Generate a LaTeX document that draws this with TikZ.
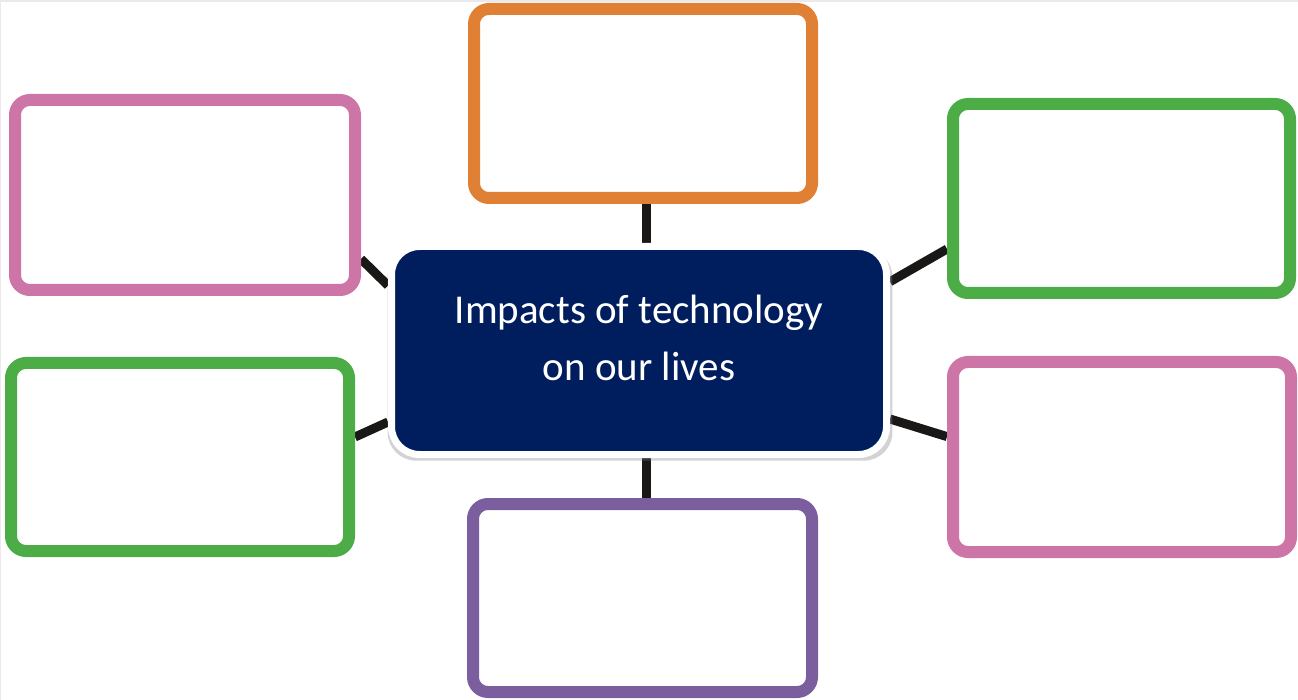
\documentclass[tikz,border=0pt]{standalone}
\usepackage{fontspec}
\setmainfont{Carlito}
\usetikzlibrary{shadows,backgrounds}
\definecolor{orangeB}{RGB}{224,128,52}
\definecolor{pinkB}{RGB}{204,117,166}
\definecolor{greenB}{RGB}{76,173,70}
\definecolor{purpleB}{RGB}{123,94,158}
\definecolor{navyB}{RGB}{0,30,94}
\definecolor{linkB}{RGB}{26,24,22}
\definecolor{edgeB}{RGB}{236,232,238}
\tikzset{
  blankbox/.style={draw=#1, line width=12pt, fill=white, rounded corners=15pt,
    rectangle, inner sep=0pt},
  hubbox/.style={draw=white, line width=7pt, fill=navyB, rounded corners=28pt,
    rectangle, inner sep=0pt, minimum width=495pt, minimum height=208pt,
    drop shadow={opacity=0.35, shadow scale=1.02, shadow xshift=1pt, shadow yshift=-4pt}},
  hubtext/.style={text=white, align=center, font=\fontsize{41}{57}\selectfont},
  link/.style={draw=linkB, line width=9pt}
}
\begin{document}
\begin{tikzpicture}[x=1pt,y=-1pt]
\useasboundingbox (0,0) rectangle (1298,700);
\draw[edgeB, line width=2pt] (0,700) -- (0,1) -- (1298,1);

\node[hubbox] (c) at (639,350.5) {};
\node[hubtext] (t) at (639,338) {Impacts of technology\\on our lives};

\node[blankbox=orangeB, minimum width=338pt, minimum height=189pt] (o) at (643,103.5) {};
\node[blankbox=pinkB, minimum width=340pt, minimum height=190pt] (lt) at (185,195) {};
\node[blankbox=greenB, minimum width=338pt, minimum height=188pt] (lb) at (180,457) {};
\node[blankbox=greenB, minimum width=337pt, minimum height=189pt] (rt) at (1121.5,198.5) {};
\node[blankbox=pinkB, minimum width=338pt, minimum height=190pt] (rb) at (1122,457) {};
\node[blankbox=purpleB, minimum width=339pt, minimum height=188pt] (b) at (642.5,598) {};

\begin{scope}[on background layer]
\draw[link] ([xshift=3pt]o.south) -- ([xshift=3pt]o.south |- c.north);
\draw[link] ([xshift=7pt]c.south) -- ([xshift=7pt]c.south |- b.north);
\draw[link] ([yshift=-64pt]lt.east) -- ([yshift=65pt]c.west);
\draw[link] ([yshift=20pt]lb.east) -- ([yshift=-71.5pt]c.west);
\draw[link] ([yshift=-50.5pt]rt.west) -- ([yshift=68.8pt]c.east);
\draw[link] ([yshift=20.4pt]rb.west) -- ([yshift=-68.5pt]c.east);
\end{scope}
\end{tikzpicture}
\end{document}
